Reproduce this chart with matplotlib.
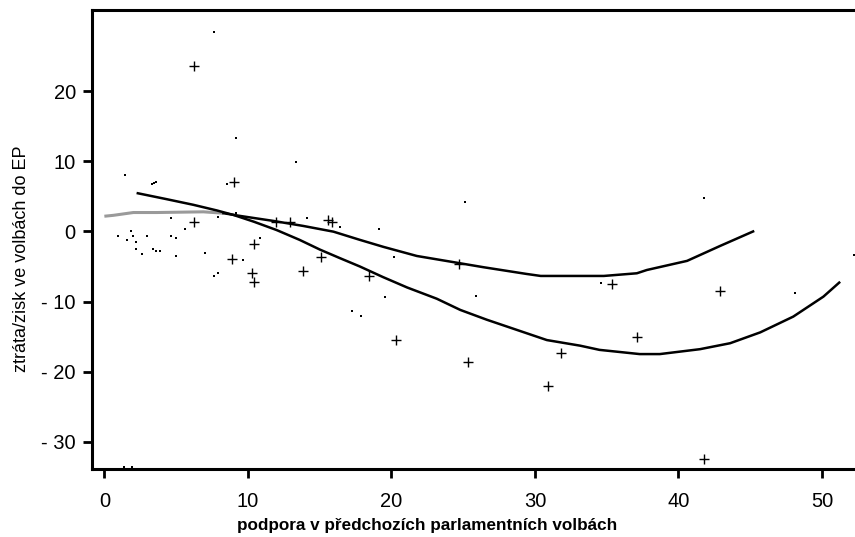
import matplotlib
matplotlib.use('Agg')
import matplotlib.pyplot as plt

plt.rcParams['font.family'] = ['Liberation Sans', 'DejaVu Sans']

# strany - body "+"
plus_x = [6.25, 6.25, 9.06, 10.43, 8.9, 10.3, 10.45, 11.96, 12.9, 15.55, 15.85, 13.82,
          15.08, 18.47, 20.33, 24.72, 25.32, 30.9, 31.83, 35.4, 37.14, 42.9, 41.79]
plus_y = [23.6, 1.4, 7.1, -1.8, -4.0, -6.0, -7.2, 1.4, 1.4, 1.7, 1.4, -5.6,
          -3.7, -6.3, -15.5, -4.7, -18.7, -22.1, -17.4, -7.5, -15.1, -8.5, -32.4]

# male tecky
dot_x = [7.62, 9.2, 13.36, 1.42, 3.3, 3.46, 3.6, 8.57, 4.67, 5.6, 7.9, 9.16, 10.85,
         0.93, 1.56, 1.86, 2.02, 2.19, 2.19, 2.95, 2.63, 3.42, 3.58, 3.88, 4.65, 4.97,
         4.97, 7.0, 9.64, 7.64, 7.94, 14.15, 16.45, 19.1, 20.19, 25.14, 19.56, 25.9,
         17.24, 17.87, 41.79, 34.6, 48.15, 52.26, 1.37, 1.9]
dot_y = [28.4, 13.4, 9.9, 8.06, 6.8, 6.9, 7.1, 6.8, 1.9, 0.36, 2.0, 2.6, -0.9,
         -0.6, -1.2, 0.1, -0.6, -1.55, -2.5, -0.6, -3.2, -2.5, -2.8, -2.8, -0.6, -0.9,
         -3.45, -3.1, -4.07, -6.3, -5.96, 1.97, 0.68, 0.36, -3.7, 4.16, -9.4, -9.2,
         -11.3, -12.0, 4.8, -7.3, -8.8, -3.35, -33.6, -33.6]

# krivka 1 (klesa az k -17)
curve1_x = [2.33, 4.35, 6.2, 7.83, 9.0, 10.4, 12.0, 13.6, 15.03, 16.4, 17.8, 19.4,
            21.1, 23.16, 24.8, 26.65, 28.74, 30.83, 33.15, 34.5, 37.3, 38.7, 41.5, 43.6,
            45.7, 48.0, 50.1, 51.2]
curve1_y = [5.45, 4.6, 3.8, 3.0, 2.35, 1.4, 0.2, -1.2, -2.6, -3.8, -5.0, -6.5,
            -8.0, -9.6, -11.2, -12.6, -14.05, -15.5, -16.3, -16.9, -17.5, -17.5, -16.8, -15.95,
            -14.4, -12.15, -9.3, -7.3]

# krivka 2 (plocha zacatek, konci na 45)
curve2_x = [0.0, 0.63, 2.02, 3.65, 6.9, 8.3, 9.5, 11.78, 13.87, 15.96, 17.8, 19.44,
            21.77, 24.09, 26.4, 29.4, 30.4, 34.8, 37.1, 37.8, 40.6, 42.9, 45.2]
curve2_y = [2.17, 2.3, 2.7, 2.7, 2.8, 2.6, 2.2, 1.5, 0.78, -0.03, -1.2, -2.2,
            -3.5, -4.3, -5.1, -6.06, -6.35, -6.35, -5.97, -5.5, -4.2, -2.07, 0.0]

fig = plt.figure(figsize=(8.55, 5.37), dpi=100)
ax = fig.add_axes([0.1073, 0.1266, 0.8927, 0.8548])

ax.plot(curve2_x[:6], curve2_y[:6], color='#9a9a9a', lw=2.2, solid_capstyle='butt')
ax.plot(curve2_x[5:], curve2_y[5:], color='black', lw=1.8)
ax.plot(curve1_x, curve1_y, color='black', lw=1.8)
ax.plot(plus_x, plus_y, ls='none', marker='+', ms=6.5, mew=1.0, color='black')
ax.plot(dot_x, dot_y, ls='none', marker='s', ms=1.5, mew=0, color='black')

ax.set_xlim(-0.88, 52.3)
ax.set_ylim(-33.9, 31.6)
ax.set_xticks([0, 10, 20, 30, 40, 50])
ax.set_yticks([-30, -20, -10, 0, 10, 20])
ax.set_yticklabels(['- 30', '- 20', '- 10', '0', '10', '20'])

for s in ['left', 'top', 'bottom']:
    ax.spines[s].set_linewidth(2.2)
ax.spines['right'].set_visible(False)
ax.tick_params(direction='out', length=6.5, width=2.0, labelsize=14.5)
ax.tick_params(axis='x', pad=10)
ax.tick_params(axis='y', pad=5)

ax.set_xlabel('podpora v předchozích parlamentních volbách', fontsize=12.3,
              fontweight='bold')
ax.xaxis.set_label_coords(0.44, -0.107)
ax.set_ylabel('ztráta/zisk ve volbách do EP', fontsize=13)
ax.yaxis.set_label_coords(-0.081, 0.4586)

fig.savefig('out.png', dpi=100)
